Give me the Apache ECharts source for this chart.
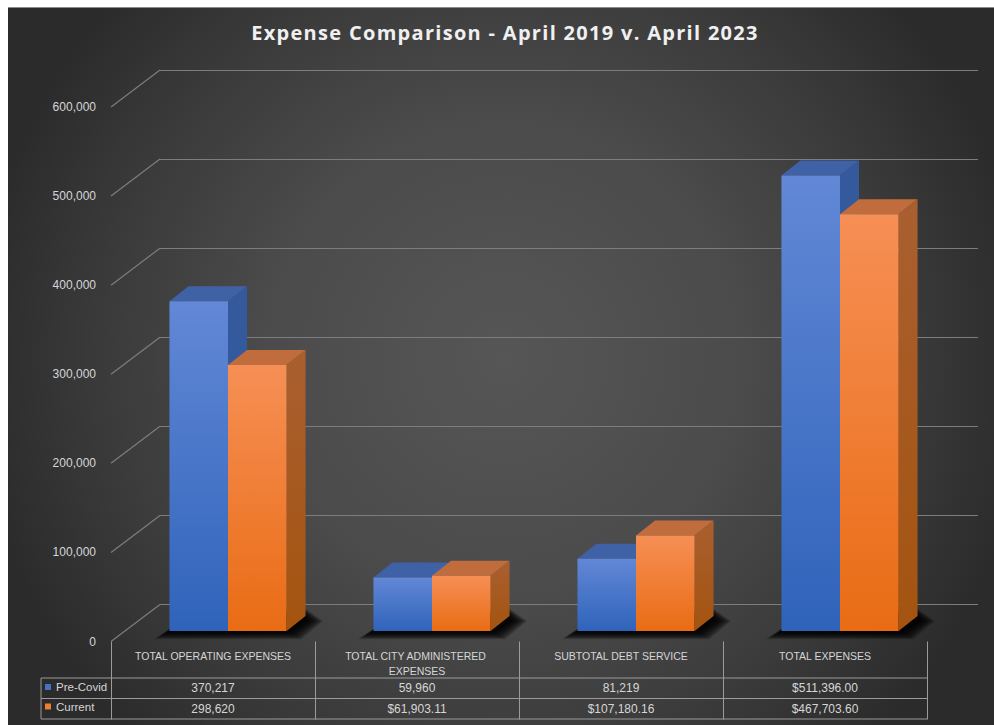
<!DOCTYPE html>
<html>
<head>
<meta charset="utf-8">
<style>
  html, body { margin: 0; padding: 0; background: #fff; width: 994px; height: 725px; overflow: hidden; }
  #panel { position: absolute; left: 8px; top: 7px; width: 986px; height: 718px; border-top: 1px solid #8a8a8a; box-sizing: border-box;
           background: radial-gradient(ellipse 530px 530px at 495px 350px, #565656 0%, #4b4b4b 45%, #393939 78%, #2b2b2b 100%); }
  #chart { position: absolute; left: 0; top: 0; width: 994px; height: 725px; }
  /* Only the bold heading is tracked out. */
  #chart svg text[style*="bold"] { letter-spacing: 1.3px; }
</style>
<script src="https://cdn.jsdelivr.net/npm/echarts@6/dist/echarts.min.js"></script>
</head>
<body>
<div id="panel"></div>
<div id="chart"></div>
<script>
const chartTitle = 'Expense Comparison - April 2019 v. April 2023';
const categories = ['TOTAL OPERATING EXPENSES', 'TOTAL CITY ADMINISTERED EXPENSES', 'SUBTOTAL DEBT SERVICE', 'TOTAL EXPENSES'];
const preCovid = [370217, 59960, 81219, 511396];
const current = [298620, 61903.11, 107180.16, 467703.60];
const preCovidLabels = ['370,217', '59,960', '81,219', '$511,396.00'];
const currentLabels = ['298,620', '$61,903.11', '$107,180.16', '$467,703.60'];
const yTicks = [0, 100000, 200000, 300000, 400000, 500000, 600000];

const FONT = '"Liberation Sans", Arial, sans-serif';
const TEXT = '#d6d6d6';
const LINE = '#9b9b9b';
const WALL = '#7d7d7d';
// Receding depth of the chart box and of each column.
const BOX_DX = 49, BOX_DY = -37;
const BAR_DX = 19, BAR_DY = -15;
const BAR_SHARE = 0.287;
const SHADOW_STEPS = 12;

const blueFaces = {
  front: ['#6288d6', '#2f63ba'], side: ['#35599c', '#2b5aa6'], top: '#3f62a6'
};
const orangeFaces = {
  front: ['#f68f55', '#e96c14'], side: ['#a95f30', '#a4540f'], top: '#c06c3c'
};

function vGrad(c) {
  return { type: 'linear', x: 0, y: 0, x2: 0, y2: 1, colorStops: [{ offset: 0, color: c[0] }, { offset: 1, color: c[1] }] };
}

// Draws one column as front, side and top faces; seriesSlot is 0 left of the band centre, 1 right of it.
function columnRenderer(faces, seriesSlot) {
  return function (params, api) {
    const cat = api.value(0);
    const top = api.coord([cat, api.value(1)]);
    const base = api.coord([cat, 0]);
    const w = api.size([1, 0])[0] * BAR_SHARE;
    const x0 = top[0] + (seriesSlot - 1) * w;
    const x1 = x0 + w;
    const yt = top[1], yb = base[1];
    return {
      type: 'group',
      children: [
        { type: 'polygon', shape: { points: [[x1, yt], [x1 + BAR_DX, yt + BAR_DY], [x1 + BAR_DX, yb + BAR_DY], [x1, yb]] }, style: { fill: vGrad(faces.side) } },
        { type: 'polygon', shape: { points: [[x0, yt], [x0 + BAR_DX, yt + BAR_DY], [x1 + BAR_DX, yt + BAR_DY], [x1, yt]] }, style: { fill: faces.top } },
        { type: 'rect', shape: { x: x0, y: yt, width: w, height: yb - yt }, style: { fill: vGrad(faces.front) } }
      ]
    };
  };
}

// Feathered floor shadow: nested translucent footprints build up towards the columns.
function floorShadow(params, api) {
  const base = api.coord([api.value(0), 0]);
  const w = api.size([1, 0])[0] * BAR_SHARE;
  const l = base[0] - w, r = base[0] + w, y = base[1];
  const children = [];
  for (let e = SHADOW_STEPS; e >= 0; e--) {
    children.push({
      type: 'polygon',
      shape: { points: [
        [l - 1.2 * e - 1, y + 0.6 * e + 1],
        [r + 1.0 * e + 3, y + 0.6 * e + 1],
        [r + BAR_DX + 1.3 * e + 2, y + BAR_DY + 5],
        [r + BAR_DX, y + BAR_DY - 0.6 * e],
        [l + BAR_DX, y + BAR_DY]
      ] },
      style: { fill: 'rgba(0,0,0,0.15)' }
    });
  }
  return { type: 'group', children };
}

// Slanted wall lines joining each front tick to the back wall.
function wallLine(params, api) {
  const p = api.coord([0, api.value(0)]);
  const x = params.coordSys.x;
  return {
    type: 'line',
    shape: { x1: x, y1: p[1], x2: x + BOX_DX, y2: p[1] + BOX_DY },
    style: { stroke: WALL, lineWidth: 1.2 }
  };
}

function tableRule(x1, y1, x2, y2) {
  return { type: 'line', shape: { x1, y1, x2, y2 }, style: { stroke: LINE, lineWidth: 1 }, silent: true };
}

const hiddenCat = {
  type: 'category', axisLine: { show: false }, axisTick: { show: false }, splitLine: { show: false }, axisLabel: { show: false }
};

function rowAxis(labels, offset) {
  return {
    type: 'category', gridIndex: 0, data: labels, position: 'bottom', offset,
    axisLine: { show: false }, axisTick: { show: false },
    axisLabel: { interval: 0, margin: 0, color: TEXT, fontFamily: FONT, fontSize: 12, hideOverlap: false, verticalAlign: 'middle', lineHeight: 14 }
  };
}

const chart = echarts.init(document.getElementById('chart'), null, { renderer: 'svg', width: 994, height: 725 });

chart.setOption({
  animation: false,
  backgroundColor: 'transparent',
  title: {
    text: chartTitle, left: 500, top: 17, textAlign: 'center',
    textStyle: { color: '#f0f0f0', fontFamily: '"Open Sans", sans-serif', fontWeight: 'bold', fontSize: 20 }
  },
  legend: {
    data: ['Pre-Covid', 'Current'], orient: 'vertical', left: 45, top: 681, itemWidth: 6, itemHeight: 6, itemGap: 7.5,
    icon: 'rect', selectedMode: false, padding: 0,
    textStyle: { color: TEXT, fontFamily: FONT, fontSize: 11.5, padding: [0, 0, 0, 0] }
  },
  grid: [
    // Front plane carries the value labels and the data-table columns.
    { left: 111, width: 816, top: 107, height: 534.5 },
    // Back wall carries the horizontal rules.
    { left: 160, width: 818, top: 70, height: 534 },
    // Column plane sits slightly behind the front edge of the floor.
    { left: 126, width: 816, top: 96.5, height: 534.5 }
  ],
  xAxis: [
    {
      type: 'category', gridIndex: 0, data: categories,
      axisLine: { show: false },
      axisTick: { show: true, length: 78, lineStyle: { color: LINE, width: 1 } },
      axisLabel: { interval: 0, margin: 7, color: TEXT, fontFamily: FONT, fontSize: 10.5, width: 190, overflow: 'break', lineHeight: 15, hideOverlap: false }
    },
    rowAxis(preCovidLabels, 46.5),
    rowAxis(currentLabels, 67.5),
    Object.assign({}, hiddenCat, { gridIndex: 1, data: categories }),
    Object.assign({}, hiddenCat, { gridIndex: 2, data: categories })
  ],
  yAxis: [
    {
      type: 'value', gridIndex: 0, min: 0, max: 600000, interval: 100000,
      axisLine: { show: false }, axisTick: { show: false }, splitLine: { show: false },
      axisLabel: { margin: 15, color: TEXT, fontFamily: FONT, fontSize: 12, formatter: v => v.toLocaleString('en-US') }
    },
    {
      type: 'value', gridIndex: 1, min: 0, max: 600000, interval: 100000,
      axisLine: { show: false }, axisTick: { show: false }, axisLabel: { show: false },
      splitLine: { show: true, lineStyle: { color: WALL, width: 1.2 } }
    },
    {
      type: 'value', gridIndex: 2, min: 0, max: 600000, interval: 100000,
      axisLine: { show: false }, axisTick: { show: false }, axisLabel: { show: false }, splitLine: { show: false }
    }
  ],
  series: [
    {
      type: 'custom', name: 'wall', xAxisIndex: 0, yAxisIndex: 0, z: 1, silent: true, clip: false,
      renderItem: wallLine, encode: { x: 1, y: 0 }, data: yTicks.map(v => [v, 0])
    },
    {
      type: 'custom', name: 'shadow', xAxisIndex: 4, yAxisIndex: 2, z: 2, silent: true, clip: false,
      renderItem: floorShadow, encode: { x: 0, y: 1 }, data: categories.map((c, i) => [i, 0])
    },
    {
      type: 'custom', name: 'Pre-Covid', xAxisIndex: 4, yAxisIndex: 2, z: 3, clip: false,
      itemStyle: { color: '#4472c4' }, renderItem: columnRenderer(blueFaces, 0),
      encode: { x: 0, y: 1 }, data: preCovid.map((v, i) => [i, v])
    },
    {
      type: 'custom', name: 'Current', xAxisIndex: 4, yAxisIndex: 2, z: 4, clip: false,
      itemStyle: { color: '#ed7d31' }, renderItem: columnRenderer(orangeFaces, 1),
      encode: { x: 0, y: 1 }, data: current.map((v, i) => [i, v])
    }
  ],
  graphic: [
    tableRule(41, 678, 927, 678),
    tableRule(41, 698.5, 927, 698.5),
    tableRule(41, 719, 927, 719),
    tableRule(41, 678, 41, 719)
  ]
});
</script>
</body>
</html>
